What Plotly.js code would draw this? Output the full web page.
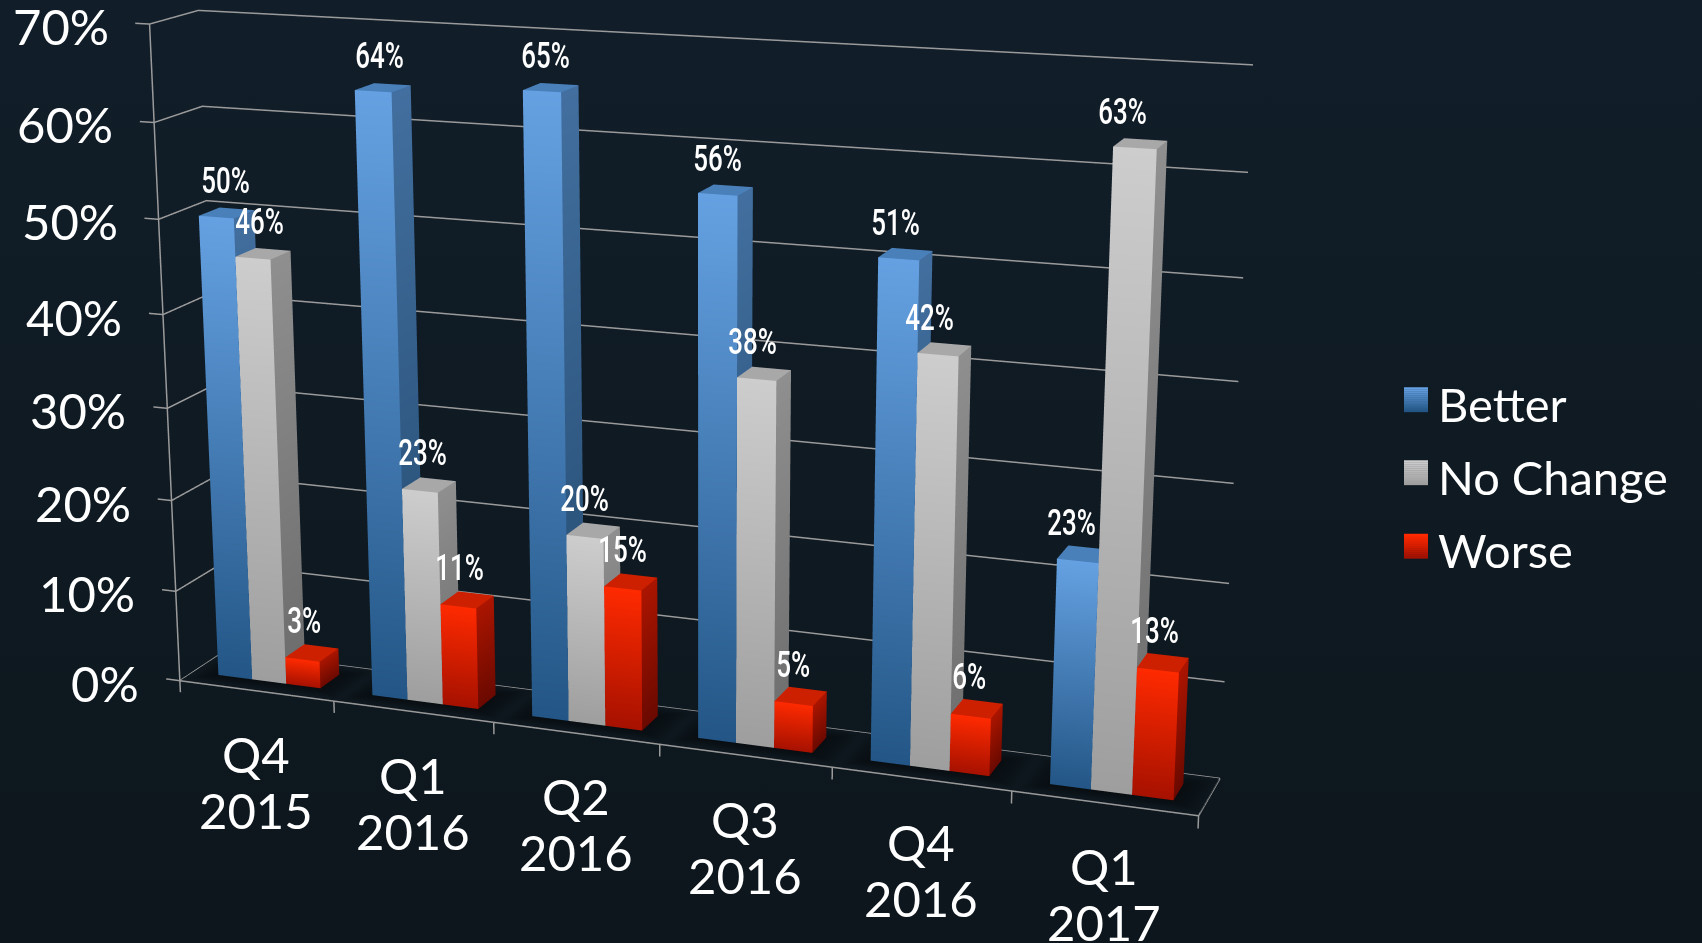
<!DOCTYPE html>
<html><head><meta charset="utf-8"><script src="https://cdn.plot.ly/plotly-3.0.1.min.js"></script>
<style>html,body{margin:0;padding:0;width:1702px;height:943px;overflow:hidden;background:linear-gradient(#111e29,#0d161c)}
#c{position:absolute;left:-431px;top:-900px;width:2133px;height:2700px}</style></head><body><div id="c"></div>
<script>
const quarters=['Q4','Q1','Q2','Q3','Q4','Q1'];
const years=['2015','2016','2016','2016','2016','2017'];
const better=[50,64,65,56,51,23];
const noChange=[46,23,20,38,42,63];
const worse=[3,11,15,5,6,13];
const seriesNames=['Better','No Change','Worse'];
const seriesValues=[better,noChange,worse];
const tickVals=[0,10,20,30,40,50,60,70];
const tickText=['0%','10%','20%','30%','40%','50%','60%','70%'];
const pal=[
 {ft:'#65a1e2',fb:'#235686',st:'#426f9f',sb:'#234a6f',top:'#4a80ba'},
 {ft:'#cdcdcd',fb:'#9e9e9e',st:'#8f8f8f',sb:'#6c6c6c',top:'#a8a8a8'},
 {ft:'#ff2a00',fb:'#a61100',st:'#ab1500',sb:'#6a0900',top:'#cc2000'}];
const lineCol='#9a9a9a',floorCol='#0d171d',shadowCol='#080d11',ink='#ffffff';
const W=2133,H=2700,offX=-431,offY=-900;
const sans='Lato, "Open Sans", sans-serif',narrow='Roboto, sans-serif';
const ranges={x:[-0.2,6.1],y:[-0.05,1.05],z:[-3,71]};
const unit={x:1.5589/6,y:0.1461,z:1/70};
const mid=k=>(ranges[k][0]+ranges[k][1])/2, span=k=>ranges[k][1]-ranges[k][0];
const fitEye=[1.5554,-4.1797,1.1785],fwd=[-0.34752,0.89749,-0.27154],upV=[-0.09267,0.25530,0.96241];
const shift=[unit.x*(3-mid('x')),unit.y*(0.5-mid('y')),unit.z*(35-mid('z'))];
const eye=fitEye.map((v,i)=>v+shift[i]);
const center=eye.map((v,i)=>v+fwd[i]*5);
const barW=(1-1/3)/3,y0=0.29,y1=0.73;
const flat={ambient:1,diffuse:0,specular:0,roughness:1,fresnel:0};
const traces=[];
function meshBuilder(){const m={X:[],Y:[],Z:[],I:[],J:[],K:[],VC:[]};
 m.quad=(a,b,c,d,cols)=>{const n=m.X.length;[a,b,c,d].forEach((q,k)=>{m.X.push(q[0]);m.Y.push(q[1]);m.Z.push(q[2]);m.VC.push(cols[k]);});m.I.push(n,n);m.J.push(n+1,n+2);m.K.push(n+2,n+3);};return m;}
seriesValues.forEach((vals,s)=>{
 const p=pal[s],m=meshBuilder();
 vals.forEach((v,i)=>{
  const a=i+1/6+s*barW,b=a+barW;
  m.quad([a,y0,0],[b,y0,0],[b,y0,v],[a,y0,v],[p.fb,p.fb,p.ft,p.ft]);
  m.quad([b,y0,0],[b,y1,0],[b,y1,v],[b,y0,v],[p.sb,p.sb,p.st,p.st]);
  m.quad([a,y0,v],[b,y0,v],[b,y1,v],[a,y1,v],[p.top,p.top,p.top,p.top]);
 });
 traces.push({type:'mesh3d',name:seriesNames[s],x:m.X,y:m.Y,z:m.Z,i:m.I,j:m.J,k:m.K,vertexcolor:m.VC,flatshading:true,lighting:flat,hoverinfo:'skip',showscale:false});
});
const fl=meshBuilder();
fl.quad([0,0,0],[6,0,0],[6,1,0],[0,1,0],[floorCol,floorCol,floorCol,floorCol]);
const zs=0.03;
quarters.forEach((q,i)=>{
 const a=i+1/6,b=i+5/6,ao=i+0.03,bo=i+1.0,c0=0.08,c1=0.95,fc=floorCol,sc=shadowCol;
 fl.quad([a,y0,zs],[b,y0,zs],[b,y1,zs],[a,y1,zs],[sc,sc,sc,sc]);
 fl.quad([ao,c0,zs],[bo,c0,zs],[b,y0,zs],[a,y0,zs],[fc,fc,sc,sc]);
 fl.quad([b,y0,zs],[bo,c0,zs],[bo,c1,zs],[b,y1,zs],[sc,fc,fc,sc]);
 fl.quad([a,y1,zs],[b,y1,zs],[bo,c1,zs],[ao,c1,zs],[sc,sc,fc,fc]);
 fl.quad([ao,c0,zs],[a,y0,zs],[a,y1,zs],[ao,c1,zs],[fc,sc,sc,fc]);
});
traces.push({type:'mesh3d',x:fl.X,y:fl.Y,z:fl.Z,i:fl.I,j:fl.J,k:fl.K,vertexcolor:fl.VC,flatshading:true,lighting:flat,hoverinfo:'skip'});
const lx=[],ly=[],lz=[];
function seg(...pts){pts.forEach(q=>{lx.push(q[0]);ly.push(q[1]);lz.push(q[2]);});lx.push(null);ly.push(null);lz.push(null);}
tickVals.forEach(t=>{seg([0,0,t],[0,1,t],[6,1,t]);seg([-0.09,0,t],[0,0,t]);});
seg([0,0,0],[0,0,70]);seg([0,0,0],[6,0,0],[6,1,0]);
for(let k=0;k<=6;k++)seg([k,0,0],[k,0,-1.3]);
traces.push({type:'scatter3d',mode:'lines',x:lx,y:ly,z:lz,line:{color:lineCol,width:3},hoverinfo:'skip',connectgaps:false});
const ann=[];
tickVals.forEach((t,i)=>ann.push({x:0,y:0,z:t,text:tickText[i],showarrow:false,xanchor:'right',yanchor:'middle',xshift:-39,yshift:-2,font:{family:sans,size:49,color:ink,weight:400}}));
quarters.forEach((q,i)=>{
 ann.push({x:i+0.5,y:0,z:0,text:q,showarrow:false,xanchor:'center',yanchor:'middle',yshift:-63,font:{family:sans,size:49,color:ink,weight:400}});
 ann.push({x:i+0.5,y:0,z:0,text:years[i],showarrow:false,xanchor:'center',yanchor:'middle',yshift:-119,font:{family:sans,size:49,color:ink,weight:400}});
});
const nudgeBase=[1,3,7.5],nudgeStep=[2,2.7,0];
seriesValues.forEach((vals,s)=>vals.forEach((v,i)=>ann.push({x:i+1/6+(s+0.5)*barW,y:(y0+y1)/2,z:v,text:v+'%',showarrow:false,xanchor:'center',yanchor:'middle',yshift:32,xshift:-(nudgeBase[s]+nudgeStep[s]*i)*1.085,font:{family:narrow,size:37,color:ink,weight:500}})));
const px=x=>(x-offX)/W,py=y=>1-(y-offY)/H;
const legY=[399.5,472.5,546];
const mix=(a,b,t)=>'#'+[1,3,5].map(i=>Math.round(parseInt(a.substr(i,2),16)*(1-t)+parseInt(b.substr(i,2),16)*t).toString(16).padStart(2,'0')).join('');
const shapes=[],paperAnn=[];
seriesNames.forEach((n,s)=>{
 const strips=12,h=24.5;
 for(let k=0;k<strips;k++){
  shapes.push({type:'rect',xref:'paper',yref:'paper',x0:px(1404),x1:px(1428),y0:py(legY[s]-h/2+h*k/strips),y1:py(legY[s]-h/2+h*(k+1)/strips+0.4),fillcolor:mix(pal[s].ft,pal[s].fb,k/(strips-1)),line:{width:0},layer:'above'});
 }
 paperAnn.push({xref:'paper',yref:'paper',x:px(1436),y:py(legY[s]+4),text:n,showarrow:false,xanchor:'left',yanchor:'middle',font:{family:sans,size:47,color:ink,weight:400}});
});
const axisOff={visible:false,showgrid:false,zeroline:false,showticklabels:false,showspikes:false,title:{text:''}};
const layout={paper_bgcolor:'rgba(0,0,0,0)',margin:{l:0,r:0,t:0,b:0},showlegend:false,width:W,height:H,shapes,annotations:paperAnn,hovermode:false,
 scene:{domain:{x:[0,1],y:[0,1]},bgcolor:'rgba(0,0,0,0)',dragmode:false,aspectmode:'manual',
  aspectratio:{x:unit.x*span('x'),y:unit.y*span('y'),z:unit.z*span('z')},
  camera:{projection:{type:'perspective'},eye:{x:eye[0],y:eye[1],z:eye[2]},center:{x:center[0],y:center[1],z:center[2]},up:{x:upV[0],y:upV[1],z:upV[2]}},
  xaxis:{...axisOff,range:ranges.x},yaxis:{...axisOff,range:ranges.y},zaxis:{...axisOff,range:ranges.z},annotations:ann}};
const host=document.getElementById('c');
function squeeze(){host.querySelectorAll('.annotation-text').forEach(t=>{
 if(t.style.fontFamily.indexOf('Roboto')<0||t.hasAttribute('textLength'))return;
 const w=t.textContent.length>2?48.6:34;t.setAttribute('textLength',w);t.setAttribute('lengthAdjust','spacingAndGlyphs');});}
Plotly.newPlot('c',traces,layout,{displayModeBar:false}).then(()=>{
 squeeze();new MutationObserver(squeeze).observe(host,{subtree:true,childList:true});});
</script></body></html>
